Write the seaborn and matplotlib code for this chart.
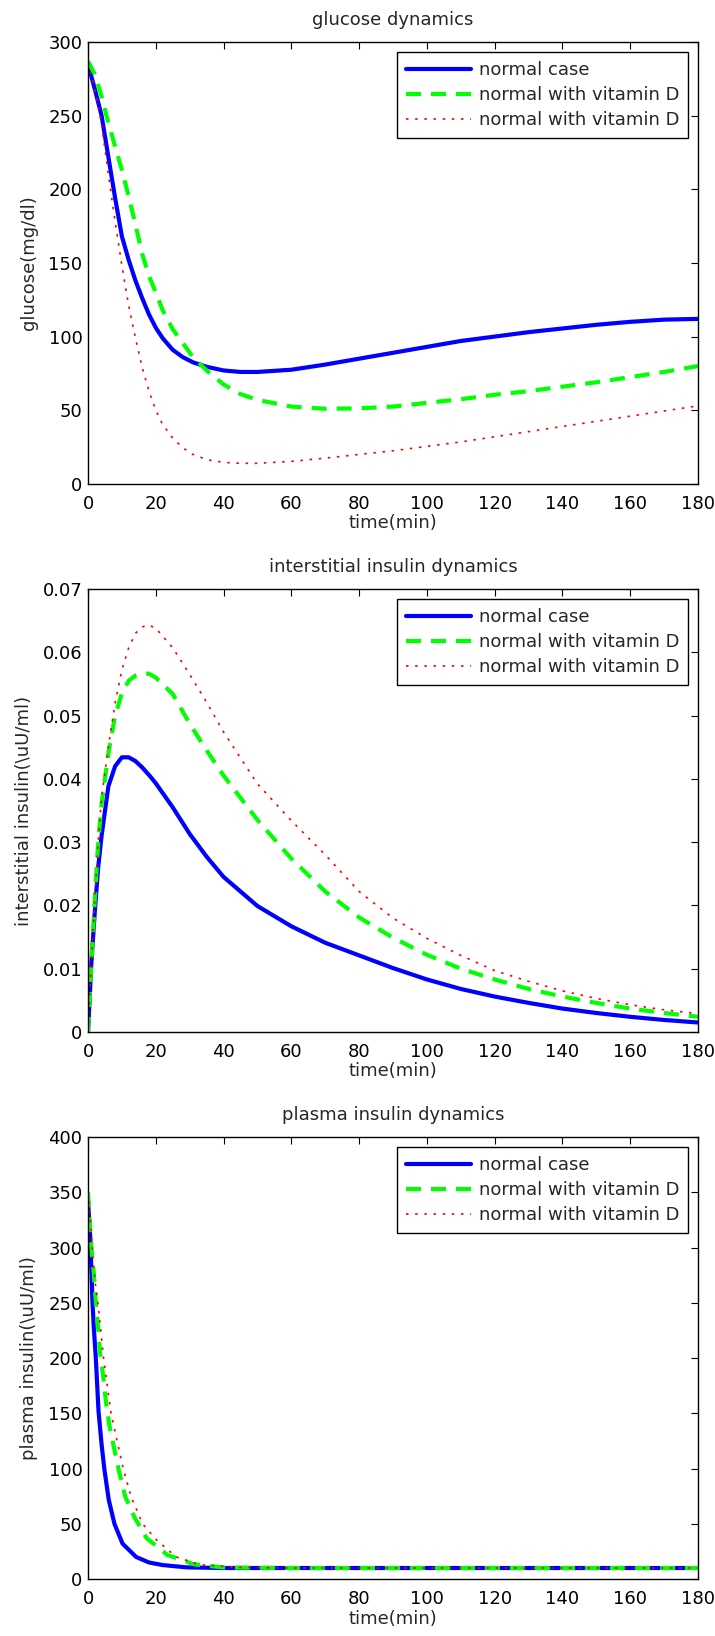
import matplotlib
matplotlib.use('Agg')
import matplotlib.pyplot as plt
import seaborn as sns

# glucose panel
t_glu = [0, 2, 4, 6, 8, 10, 12, 14, 16, 18, 20, 22, 25, 28, 31, 35, 40, 45, 50,
         60, 70, 80, 90, 100, 110, 120, 130, 140, 150, 160, 170, 180]
glu_normal = [285, 268, 250, 222, 194, 168, 152, 138, 126, 115, 106, 99, 91, 86, 82.5, 79.5,
              77, 76, 76, 77.5, 81, 85, 89, 93, 97, 100, 103, 105.5, 108, 110, 111.5, 112]
glu_vitd = [287, 278, 263, 245, 229, 213, 195, 176, 156, 141, 130, 118, 105, 95.5, 86, 77,
            67.5, 61, 57, 52.5, 51, 51.3, 52.5, 55, 57.5, 60.5, 63, 66, 69, 72.5, 76, 80]
glu_vitd2 = [286, 268, 244, 210, 178, 148, 121, 99, 79, 63, 50, 40.5, 31, 24.5, 20, 16.5,
             14.6, 14, 14, 15.3, 17.5, 20, 22.5, 25.5, 28.5, 32, 35.5, 39, 42.5, 46, 49.5, 53]

# interstitial insulin panel
t_int = [0, 1, 2, 3, 4, 6, 8, 10, 12, 14, 16, 18, 20, 25, 30, 35, 40, 50, 60, 70,
         80, 90, 100, 110, 120, 130, 140, 150, 160, 170, 180]
int_normal = [0, 0.011, 0.019, 0.026, 0.031, 0.0388, 0.0420, 0.0434, 0.0434, 0.0428, 0.0418,
              0.0406, 0.0393, 0.0355, 0.0313, 0.0277, 0.0245, 0.0199, 0.0167, 0.0141, 0.0121,
              0.0101, 0.0083, 0.0068, 0.0056, 0.0046, 0.0037, 0.0030, 0.0024, 0.0019, 0.0015]
int_vitd = [0, 0.011, 0.021, 0.030, 0.036, 0.044, 0.050, 0.0535, 0.0555, 0.0563, 0.0567,
            0.0566, 0.0560, 0.0534, 0.0487, 0.0445, 0.0405, 0.0335, 0.0274, 0.0222, 0.0181,
            0.0149, 0.0122, 0.0100, 0.0083, 0.0068, 0.0056, 0.0046, 0.0037, 0.0030, 0.0024]
int_vitd2 = [0, 0.011, 0.021, 0.030, 0.037, 0.045, 0.052, 0.0572, 0.0607, 0.0630, 0.0640,
             0.0643, 0.0638, 0.0607, 0.0565, 0.0521, 0.0474, 0.0392, 0.0334, 0.0280, 0.0222,
             0.0180, 0.0148, 0.0121, 0.0097, 0.0080, 0.0065, 0.0053, 0.0043, 0.0035, 0.0029]

# plasma insulin panel (each curve read at its own times)
t_pla_normal = [0, 0.7, 1.0, 1.3, 1.7, 2.3, 3.1, 4.0, 4.8, 6.1, 7.8, 10.2, 14.2, 18, 22,
                29, 40, 60, 100, 140, 180]
pla_normal = [342, 307, 278, 252, 228, 200, 152, 122, 100, 72, 50, 32, 20, 15, 12.7,
              10.6, 10, 10, 10, 10, 10]
t_pla_vitd = [0, 0.5, 1.0, 1.7, 2.2, 2.9, 3.6, 4.5, 5.3, 6.3, 7.8, 9.2, 11, 13.7, 17.3,
              23.5, 31.4, 40, 60, 100, 140, 180]
pla_vitd = [350, 323, 300, 277, 255, 230, 204, 183, 160, 139, 117, 97, 74.5, 56, 37,
            21.7, 13.3, 10.5, 10, 10, 10, 10]
t_pla_vitd2 = [0, 0.9, 1.4, 2.2, 2.9, 3.7, 4.5, 6.8, 8.5, 10.4, 12.7, 16.1, 20, 26, 33,
               45, 60, 100, 140, 180]
pla_vitd2 = [350, 316, 292, 266, 250, 227, 202, 150, 126, 100, 74.5, 50, 36, 20, 13,
             10.5, 10, 10, 10, 10]

labels = ['normal case', 'normal with vitamin D', 'normal with vitamin D']
x_ticks = list(range(0, 181, 20))
glu_ticks = list(range(0, 301, 50))
int_ticks = [0, 0.01, 0.02, 0.03, 0.04, 0.05, 0.06, 0.07]
int_ticklabels = ['0', '0.01', '0.02', '0.03', '0.04', '0.05', '0.06', '0.07']
pla_ticks = list(range(0, 401, 50))

sns.set_style('white')
plt.rcParams['font.family'] = ['DejaVu Sans']
plt.rcParams['font.size'] = 13

fig = plt.figure(figsize=(7.15, 16.36), dpi=100)
ax1 = fig.add_axes([0.1231, 0.7042, 0.8531, 0.2702])
ax2 = fig.add_axes([0.1231, 0.3692, 0.8531, 0.2708])
ax3 = fig.add_axes([0.1231, 0.0348, 0.8531, 0.2702])

panels = [
    (ax1, [(t_glu, glu_normal), (t_glu, glu_vitd), (t_glu, glu_vitd2)],
     'glucose dynamics', 'glucose(mg/dl)', (0, 300), glu_ticks, None),
    (ax2, [(t_int, int_normal), (t_int, int_vitd), (t_int, int_vitd2)],
     'interstitial insulin dynamics', 'interstitial insulin(\\uU/ml)', (0, 0.07), int_ticks, int_ticklabels),
    (ax3, [(t_pla_normal, pla_normal), (t_pla_vitd, pla_vitd), (t_pla_vitd2, pla_vitd2)],
     'plasma insulin dynamics', 'plasma insulin(\\uU/ml)', (0, 400), pla_ticks, None),
]

for ax, series, title, ylabel, ylim, yticks, yticklabels in panels:
    sns.lineplot(x=series[0][0], y=series[0][1], ax=ax, color=(0, 0, 1), linewidth=3,
                 label=labels[0])
    sns.lineplot(x=series[1][0], y=series[1][1], ax=ax, color=(0, 1, 0), linewidth=3,
                 linestyle=(0, (3.6, 2.4)), label=labels[1])
    sns.lineplot(x=series[2][0], y=series[2][1], ax=ax, color=(1, 0, 0), linewidth=1.2,
                 linestyle=(0, (1.5, 4)), label=labels[2])
    ax.set_xlim(0, 180)
    ax.set_ylim(*ylim)
    ax.set_xticks(x_ticks)
    ax.set_yticks(yticks)
    if yticklabels is not None:
        ax.set_yticklabels(yticklabels)
    ax.tick_params(axis='both', direction='in', length=5, width=0.8, colors='black',
                   top=True, right=True, labelsize=13)
    ax.tick_params(axis='x', pad=8)
    ax.tick_params(axis='y', pad=4)
    for s in ax.spines.values():
        s.set_color('black')
        s.set_linewidth(1.0)
    ax.set_title(title, fontsize=13, pad=12)
    ax.set_xlabel('time(min)', fontsize=13, labelpad=1)
    ax.set_ylabel(ylabel, fontsize=13, labelpad=7)
    leg = ax.legend(loc='upper right', fontsize=13, frameon=True, fancybox=False,
                    framealpha=1, edgecolor='black', borderaxespad=0.55, borderpad=0.5,
                    labelspacing=0.4, handlelength=3.6, handletextpad=0.4)
    leg.get_frame().set_linewidth(1.0)

fig.savefig('out.png', dpi=100)
